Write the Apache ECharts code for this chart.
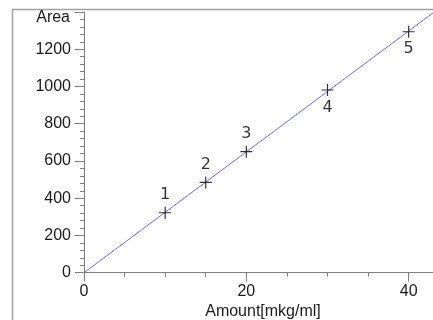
<!DOCTYPE html>
<html><head><meta charset="utf-8">
<script src="https://cdn.jsdelivr.net/npm/echarts@6/dist/echarts.min.js"></script>
<style>html,body{margin:0;padding:0;background:#fff}#c{width:433px;height:320px}</style>
</head><body><div id="c"></div>
<script>
const amounts = [10, 15, 20, 30, 40];
const areas = [322, 485, 650, 981, 1294];
const pointLabels = ['1', '2', '3', '4', '5'];
const labelBelow = [false, false, false, true, true];
const fitX = [0, 43];
const fitY = [0, 1395];
const yTicks = [0, 200, 400, 600, 800, 1000, 1200];
const xTicks = [0, 20, 40];

const chart = echarts.init(document.getElementById('c'), null, {renderer: 'canvas'});
const tickFont = {fontFamily: 'Liberation Sans, Arial, sans-serif', fontSize: 16, color: '#1a1a1a'};
chart.setOption({
  animation: false,
  grid: {left: 84, right: 0, top: 12, bottom: 47.3, containLabel: false},
  xAxis: {
    type: 'value', min: 0, max: 43, interval: 20,
    axisLine: {show: true, onZero: false, lineStyle: {color: '#808080', width: 1}},
    axisTick: {show: true, length: 9, lineStyle: {color: '#808080'}},
    minorTick: {show: true, splitNumber: 4, length: 4, lineStyle: {color: '#808080'}},
    splitLine: {show: false},
    axisLabel: Object.assign({margin: 11, showMaxLabel: false,
      formatter: v => xTicks.includes(v) ? String(v) : ''}, tickFont)
  },
  yAxis: {
    type: 'value', min: 0, max: 1400, interval: 200,
    axisLine: {show: true, onZero: false, lineStyle: {color: '#808080', width: 1}},
    axisTick: {show: true, length: 9, lineStyle: {color: '#808080'}},
    minorTick: {show: true, splitNumber: 5, length: 4, lineStyle: {color: '#808080'}},
    splitLine: {show: false},
    axisLabel: Object.assign({margin: 13,
      formatter: v => yTicks.includes(v) ? String(v) : ''}, tickFont)
  },
  graphic: [
    {type: 'rect', left: 10, top: 7, shape: {width: 440, height: 312},
     style: {fill: 'none', stroke: '#a0a0a0', lineWidth: 1.5}, z: -1},
    {type: 'text', x: 70, y: 18, style: {text: 'Area', align: 'right', verticalAlign: 'middle',
      fill: '#1a1a1a', font: '16px "Liberation Sans", Arial, sans-serif'}},
    {type: 'text', x: 263, y: 312, style: {text: 'Amount[mkg/ml]', align: 'center', verticalAlign: 'middle',
      fill: '#1a1a1a', font: '16px "Liberation Sans", Arial, sans-serif'}}
  ],
  series: [
    {
      type: 'line', data: fitX.map((x, i) => [x, fitY[i]]),
      symbol: 'none', lineStyle: {color: '#6b6bff', width: 1}, clip: true, z: 1
    },
    {
      type: 'scatter',
      data: amounts.map((x, i) => ({
        value: [x, areas[i]],
        label: {position: labelBelow[i] ? 'bottom' : 'top'}
      })),
      symbol: 'path://M0,6L12,6M6,0L6,12', symbolSize: 12,
      itemStyle: {color: 'none', borderColor: '#000', borderWidth: 1.2},
      label: {show: true, distance: 1, formatter: p => pointLabels[p.dataIndex],
        fontFamily: 'DejaVu Sans, sans-serif', fontSize: 16, color: '#000'},
      z: 3
    }
  ]
});
</script></body></html>
